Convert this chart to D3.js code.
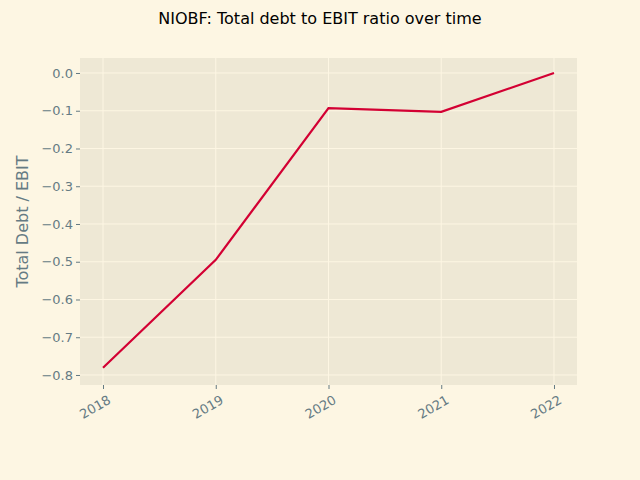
<!DOCTYPE html>
<html>
<head>
<meta charset="utf-8">
<script src="https://cdn.jsdelivr.net/npm/d3@7"></script>
<style>
  body { margin: 0; background: #fdf6e3; }
  text { font-family: "DejaVu Sans", sans-serif; }
</style>
</head>
<body>
<div id="viz"></div>
<script>
  const WIDTH = 640, HEIGHT = 480;
  const years = [2018, 2019, 2020, 2021, 2022];
  const ratio = [-0.781, -0.495, -0.093, -0.103, 0.0];
  const yTicks = [0.0, -0.1, -0.2, -0.3, -0.4, -0.5, -0.6, -0.7, -0.8];

  const m = {left: 80, right: 577, top: 58, bottom: 385};

  var svg = d3.select("#viz").append("svg")
    .attr("width", WIDTH).attr("height", HEIGHT);

  svg.append("rect").attr("width", WIDTH).attr("height", HEIGHT).attr("fill", "#fdf6e3");

  var x = d3.scaleLinear().domain([2017.796, 2022.204]).range([m.left, m.right]);
  var y = d3.scaleLinear().domain([-0.8265, 0.0397]).range([m.bottom, m.top]);

  svg.append("rect")
    .attr("x", m.left).attr("y", m.top)
    .attr("width", m.right - m.left).attr("height", m.bottom - m.top)
    .attr("fill", "#eee8d5");

  // grid
  svg.append("g").selectAll("line").data(years).enter().append("line")
    .attr("x1", d => x(d)).attr("x2", d => x(d))
    .attr("y1", m.top).attr("y2", m.bottom)
    .attr("stroke", "#fdf6e3").attr("stroke-width", 1);
  svg.append("g").selectAll("line").data(yTicks).enter().append("line")
    .attr("y1", d => y(d)).attr("y2", d => y(d))
    .attr("x1", m.left).attr("x2", m.right)
    .attr("stroke", "#fdf6e3").attr("stroke-width", 1);

  // axes
  var xAxis = svg.append("g").attr("transform", "translate(0," + m.bottom + ")")
    .call(d3.axisBottom(x).tickValues(years).tickFormat(d3.format("d")).tickSize(4));
  xAxis.select(".domain").remove();
  xAxis.selectAll("line").attr("stroke", "#657b83");
  xAxis.selectAll(".tick text")
    .attr("fill", "#657b83").attr("font-size", 13)
    .attr("text-anchor", "end")
    .attr("x", 0).attr("y", 0).attr("dy", "0.5em")
    .attr("transform", "translate(5,12) rotate(-30)");

  var yAxis = svg.append("g").attr("transform", "translate(" + m.left + ",0)")
    .call(d3.axisLeft(y).tickValues(yTicks).tickFormat(d3.format(".1f")).tickSize(4));
  yAxis.select(".domain").remove();
  yAxis.selectAll("line").attr("stroke", "#657b83");
  yAxis.selectAll("text").attr("fill", "#657b83").attr("font-size", 13)
    .text(d => (d < 0 ? "\u2212" + Math.abs(d).toFixed(1) : d.toFixed(1)));

  // line
  var line = d3.line().x((d, i) => x(years[i])).y(d => y(d));
  svg.append("path").datum(ratio)
    .attr("d", line).attr("fill", "none")
    .attr("stroke", "#d30033").attr("stroke-width", 2.2);

  svg.append("text").attr("x", 320).attr("y", 24).attr("text-anchor", "middle")
    .attr("font-size", 16).attr("fill", "#000")
    .text("NIOBF: Total debt to EBIT ratio over time");

  svg.append("text").attr("transform", "translate(28," + ((m.top + m.bottom) / 2) + ") rotate(-90)")
    .attr("text-anchor", "middle").attr("font-size", 16).attr("fill", "#657b83")
    .text("Total Debt / EBIT");
</script>
</body>
</html>
